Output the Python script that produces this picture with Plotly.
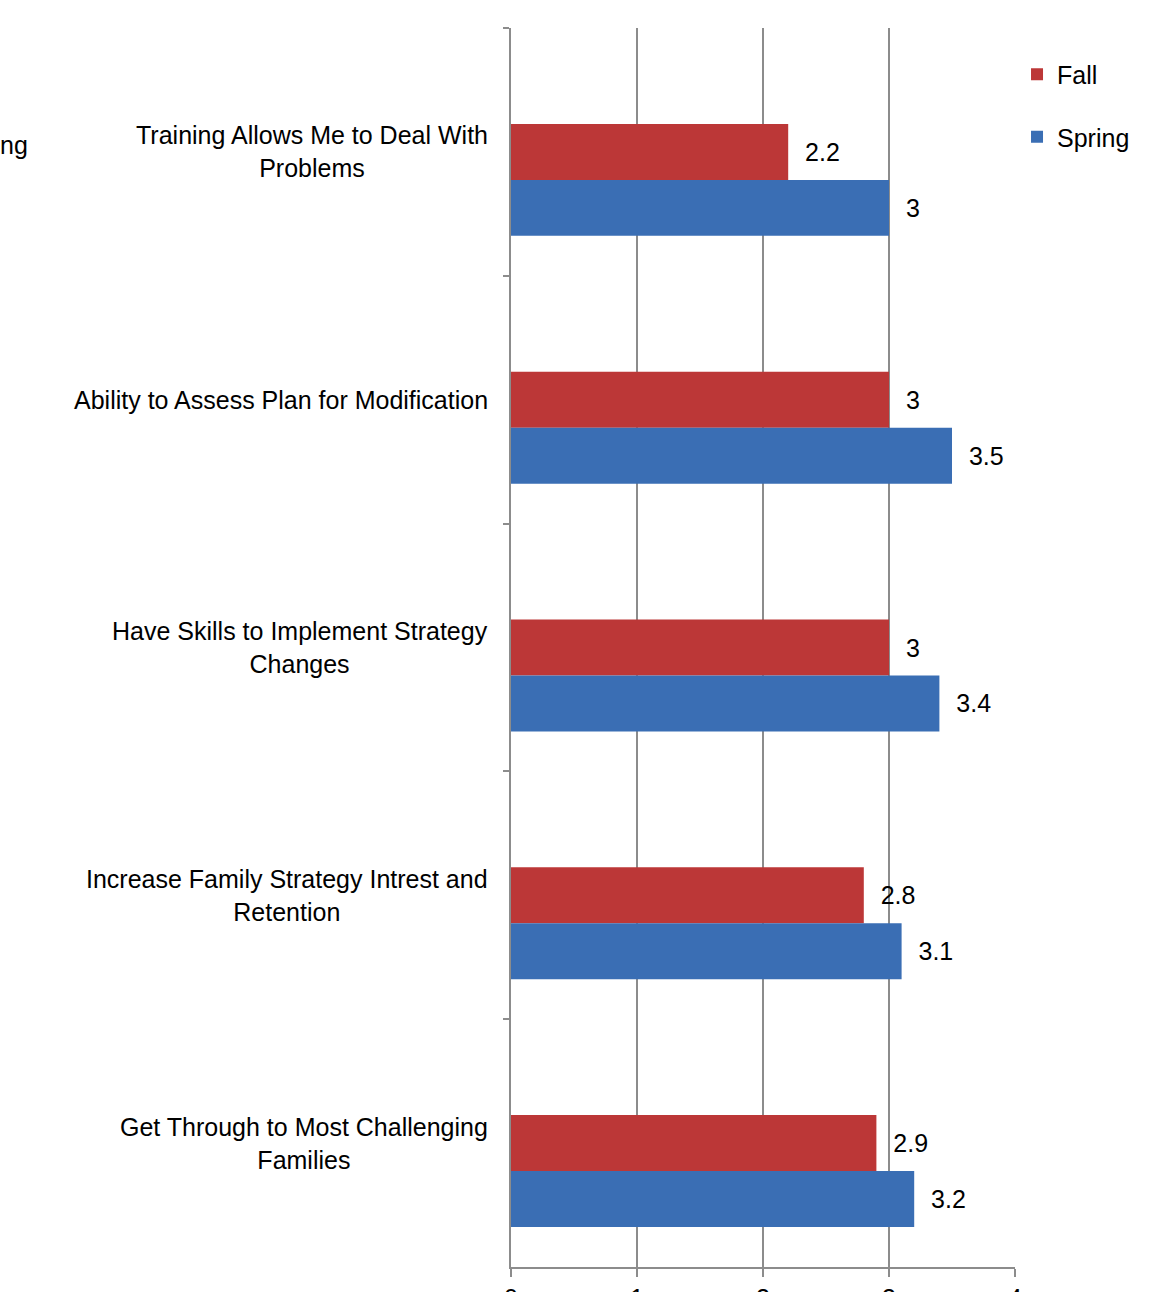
import plotly.graph_objects as go

categories = [
    "Training Allows Me to Deal With<br>Problems",
    "Ability to Assess Plan for Modification",
    "Have Skills to Implement Strategy<br>Changes",
    "Increase Family Strategy Intrest and<br>Retention",
    "Get Through to Most Challenging<br>Families",
]
cat_keys = ["c1", "c2", "c3", "c4", "c5"]
fall = [2.2, 3, 3, 2.8, 2.9]
spring = [3, 3.5, 3.4, 3.1, 3.2]
x_ticks = [0, 1, 2, 3, 4]

FONT = "Liberation Sans, Arial, sans-serif"
FS = 25
W, H = 1154, 1292
L, R, T, B = 511, 139, 28, 25
pw = W - L - R

BAR_W = 0.2258

fig = go.Figure()
fig.add_trace(go.Bar(
    y=cat_keys, x=fall, orientation="h", name="Fall",
    width=BAR_W, offset=-BAR_W / 2,
    marker=dict(color="#BC3737", line=dict(width=0)),
    text=[f"{v:g}" for v in fall], textposition="outside",
    texttemplate="  %{text}",
    textfont=dict(size=FS, color="#000000", family=FONT),
    cliponaxis=False, legendgroup="a",
))
fig.add_trace(go.Bar(
    y=cat_keys, x=spring, orientation="h", name="Spring",
    width=BAR_W, offset=BAR_W / 2,
    marker=dict(color="#3A6EB4", line=dict(width=0)),
    text=[f"{v:g}" for v in spring], textposition="outside",
    texttemplate="  %{text}",
    textfont=dict(size=FS, color="#000000", family=FONT),
    cliponaxis=False, legendgroup="b",
))

for k, lab in zip(cat_keys, categories):
    fig.add_annotation(
        x=-21 / pw, xref="paper", y=k, yref="y", text=lab,
        xanchor="right", yanchor="middle", align="center",
        showarrow=False, font=dict(size=FS, color="#000000", family=FONT),
    )

fig.add_annotation(
    x=-(L + 2) / pw, xref="paper", y=cat_keys[0], yref="y", text="ng",
    xanchor="left", yanchor="middle", yshift=7, showarrow=False,
    font=dict(size=FS, color="#000000", family=FONT),
)

fig.update_layout(
    width=W, height=H,
    margin=dict(l=L, r=R, t=T, b=B, autoexpand=False),
    paper_bgcolor="white", plot_bgcolor="white",
    barmode="overlay",
    font=dict(family=FONT, size=FS, color="#000000"),
    showlegend=True,
    legend=dict(
        x=1.004, y=0.981, xanchor="left", yanchor="top",
        traceorder="grouped", tracegroupgap=27,
        font=dict(size=FS, family=FONT), itemwidth=30,
        bgcolor="rgba(0,0,0,0)",
    ),
    xaxis=dict(
        range=[0, 4], tickvals=x_ticks, showgrid=True,
        gridcolor="#8C8C8C", gridwidth=1.5, zeroline=False,
        showline=True, linecolor="#8C8C8C", linewidth=1.5,
        ticks="outside", ticklen=8, tickcolor="#8C8C8C", tickwidth=1.5,
        tickfont=dict(size=FS, family=FONT), fixedrange=True,
    ),
    yaxis=dict(
        type="category", categoryorder="array", categoryarray=cat_keys,
        autorange="reversed", showticklabels=False,
        tickson="boundaries", ticks="outside", ticklen=6,
        tickcolor="#8C8C8C", tickwidth=1.5,
        showline=True, linecolor="#8C8C8C", linewidth=1.5,
        showgrid=False, zeroline=False, fixedrange=True,
    ),
)

fig.write_html("out.html")
